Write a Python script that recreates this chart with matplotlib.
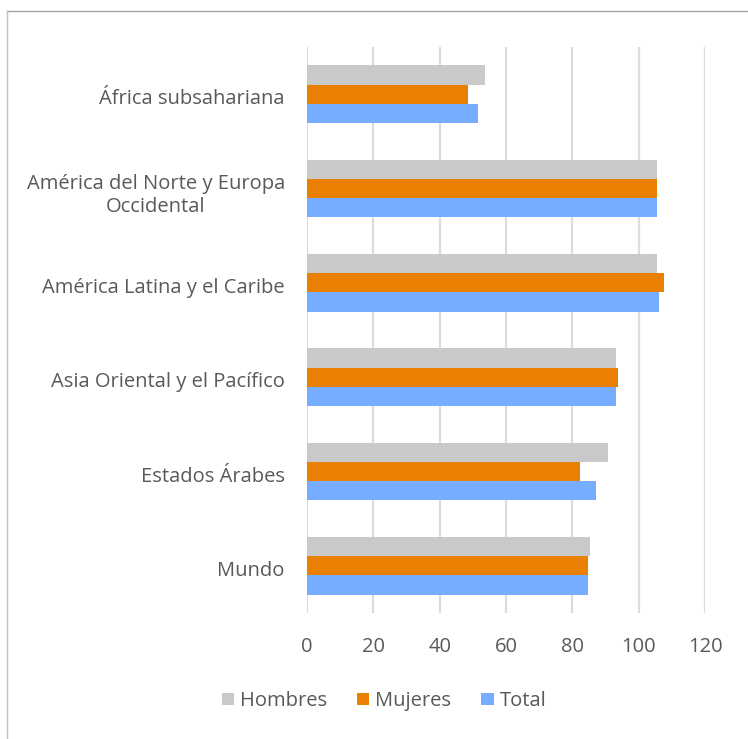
import numpy as np
import matplotlib.pyplot as plt
from matplotlib.lines import Line2D

# categories listed bottom -> top as drawn on the y axis
regions = ["Mundo", "Estados Árabes", "Asia Oriental y el Pacífico",
           "América Latina y el Caribe", "América del Norte y Europa\nOccidental",
           "África subsahariana"]
hombres = [85.4, 90.8, 93.1, 105.4, 105.4, 53.8]
mujeres = [84.6, 82.3, 93.9, 107.7, 105.4, 48.4]
total = [84.6, 87.0, 93.1, 106.1, 105.4, 51.5]
xticks = [0, 20, 40, 60, 80, 100, 120]

plt.rcParams['font.family'] = ['Open Sans', 'DejaVu Sans']
text_col = "#595959"

fig = plt.figure(figsize=(7.48, 7.39), dpi=100)
ax = fig.add_axes([307 / 748, 1 - 613 / 739, 398 / 748, 566 / 739])

y = np.arange(len(regions))
h = 0.204
ax.barh(y + h, hombres, height=h, color="#c9c9c9", label="Hombres", zorder=3)
ax.barh(y, mujeres, height=h, color="#ea8003", label="Mujeres", zorder=3)
ax.barh(y - h, total, height=h, color="#78acff", label="Total", zorder=3)

ax.set_xlim(0, 120)
ax.set_ylim(-0.5, len(regions) - 0.5)
ax.set_xticks(xticks)
ax.set_xticklabels([str(t) for t in xticks])
ax.set_yticks(y - 0.03)
ax.set_yticklabels(regions, multialignment="center")
ax.tick_params(axis="x", length=0, pad=17, labelsize=14.5, labelcolor=text_col)
ax.tick_params(axis="y", length=0, pad=16, labelsize=14.5, labelcolor=text_col)
ax.grid(axis="x", color="#dcdcdc", linewidth=1.6, zorder=0)
for s in ax.spines.values():
    s.set_visible(False)

fig.legend(loc="center", bbox_to_anchor=(384 / 748, 1 - 701 / 739), ncol=3,
           frameon=False, fontsize=14.5, labelcolor=text_col,
           handlelength=0.6, handleheight=0.6, handletextpad=0.3, columnspacing=1.5)

# outer frame (top and left edges visible)
fig.add_artist(Line2D([7 / 748, 1], [1 - 11 / 739, 1 - 11 / 739], color="#a6a6a6", linewidth=1))
fig.add_artist(Line2D([7 / 748, 7 / 748], [0, 1 - 11 / 739], color="#bfbfbf", linewidth=1))

fig.savefig("out.png", dpi=100)
